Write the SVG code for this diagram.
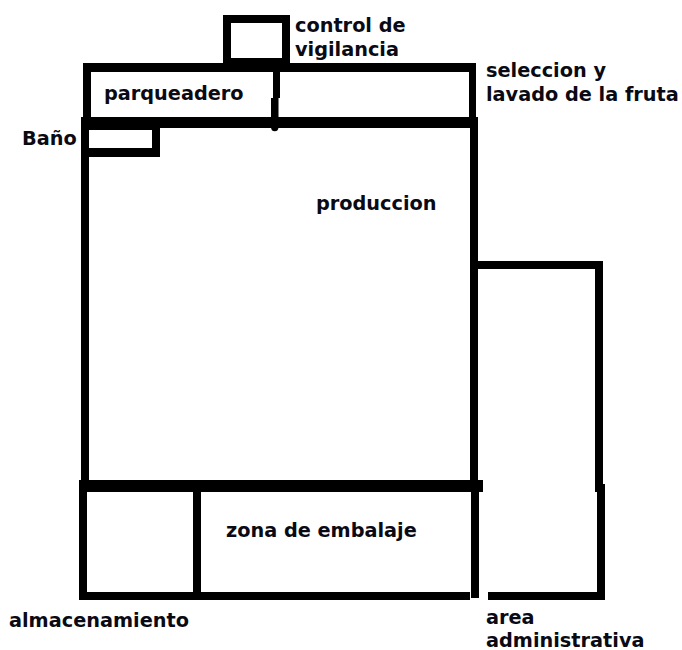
<svg xmlns="http://www.w3.org/2000/svg" width="682" height="650" viewBox="0 0 682 650">
<style>
.w{fill:#000}
text{font-family:"DejaVu Sans",sans-serif;font-weight:700;font-size:19.3px;fill:#0a0a14}
</style>
<rect width="682" height="650" fill="#fff"/>
<g id="control-vigilancia">
<path class="w" fill-rule="evenodd" d="M223 15H290V66H223ZM231 23V58H282V23Z"/>
<text x="295" y="32">control de</text>
<text x="295" y="56">vigilancia</text>
</g>
<g id="parqueadero">
<path class="w" d="M83 63H476V72H83ZM83 63H91V120H83ZM469 63H476V120H469Z"/>
<path class="w" d="M273 71H280V98H278.500V127A3.500 4 0 0 1 271 127V98H273Z"/>
<text x="104" y="100">parqueadero</text>
</g>
<g id="seleccion">
<text x="486" y="77">seleccion y</text>
<text x="486" y="101">lavado de la fruta</text>
</g>
<g id="produccion">
<path class="w" d="M81 117H478V128H81ZM81 117H89V486H81ZM470 117H478V486H470Z"/>
<text x="316" y="210">produccion</text>
</g>
<g id="bano">
<path class="w" d="M85 122H160V157H85V148H152V130H85Z"/>
<text x="22" y="145">Baño</text>
</g>
<g id="embalaje">
<path class="w" d="M79 480H483V492H79ZM79 484H87V600H79ZM79 592H470V600H79ZM193 490H201V595H193Z"/>
<text x="226" y="537">zona de embalaje</text>
</g>
<g id="almacenamiento">
<text x="9" y="627">almacenamiento</text>
</g>
<g id="area-administrativa">
<path class="w" d="M471 484H479V598H471ZM478 261H603V269H478ZM595 261H603V492H595ZM597 484H605V600H597ZM488 592H605V600H488Z"/>
<text x="486" y="624">area</text>
<text x="486" y="646.500">administrativa</text>
</g>
</svg>
